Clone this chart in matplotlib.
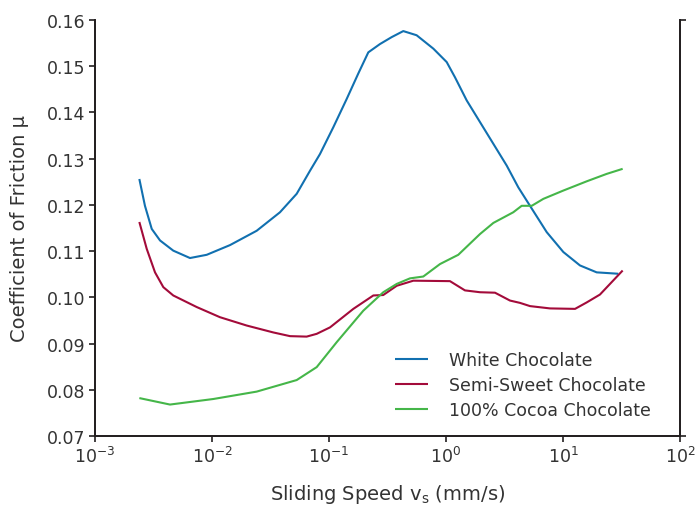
import matplotlib
matplotlib.use("Agg")
import matplotlib.pyplot as plt
import numpy as np

plt.rcParams['font.family'] = ['DejaVu Sans']
plt.rcParams['mathtext.default'] = 'regular'

# log10 of sliding speed (mm/s) and coefficient of friction
white_logx = [-2.621, -2.573, -2.515, -2.444, -2.331, -2.188, -2.045, -1.846, -1.618, -1.419,
              -1.276, -1.162, -1.077, -0.963, -0.849, -0.750, -0.664, -0.564, -0.464, -0.365,
              -0.251, -0.108, 0.006, 0.077, 0.177, 0.291, 0.405, 0.519, 0.618, 0.718,
              0.861, 1.003, 1.145, 1.288, 1.473]
white_mu = [0.1256, 0.1198, 0.1148, 0.1123, 0.1101, 0.1085, 0.1092, 0.1113, 0.1144, 0.1184,
            0.1224, 0.1274, 0.1310, 0.1368, 0.1429, 0.1484, 0.1530, 0.1548, 0.1563, 0.1576,
            0.1567, 0.1538, 0.1509, 0.1476, 0.1426, 0.1379, 0.1332, 0.1285, 0.1238, 0.1198,
            0.1141, 0.1098, 0.1069, 0.1054, 0.1051]

semi_logx = [-2.621, -2.558, -2.487, -2.416, -2.331, -2.131, -1.932, -1.704, -1.476, -1.333,
             -1.191, -1.105, -0.991, -0.792, -0.621, -0.536, -0.421, -0.279, 0.034, 0.162,
             0.291, 0.419, 0.547, 0.632, 0.718, 0.889, 1.103, 1.203, 1.316, 1.510]
semi_mu = [0.1163, 0.1105, 0.1054, 0.1022, 0.1004, 0.0979, 0.0957, 0.0939, 0.0924, 0.0916,
           0.0915, 0.0921, 0.0935, 0.0975, 0.1004, 0.1005, 0.1025, 0.1036, 0.1035, 0.1015,
           0.1011, 0.1010, 0.0993, 0.0988, 0.0981, 0.0976, 0.0975, 0.0989, 0.1006, 0.1058]

cocoa_logx = [-2.621, -2.359, -1.989, -1.618, -1.276, -1.105, -0.934, -0.707, -0.536, -0.421,
              -0.308, -0.194, -0.051, 0.105, 0.291, 0.405, 0.575, 0.647, 0.733, 0.832,
              1.003, 1.203, 1.373, 1.510]
cocoa_mu = [0.0782, 0.0768, 0.0780, 0.0796, 0.0821, 0.0849, 0.0903, 0.0971, 0.1011, 0.1029,
            0.1041, 0.1045, 0.1072, 0.1092, 0.1137, 0.1161, 0.1184, 0.1198, 0.1198, 0.1213,
            0.1231, 0.1251, 0.1267, 0.1278]

series_names = ["White Chocolate", "Semi-Sweet Chocolate", "100% Cocoa Chocolate"]
colors = ["#1170b0", "#a30b3a", "#45b649"]
y_ticks = [0.07, 0.08, 0.09, 0.10, 0.11, 0.12, 0.13, 0.14, 0.15, 0.16]
x_ticks = [1e-3, 1e-2, 1e-1, 1e0, 1e1, 1e2]

text_color = "#333333"
spine_color = "#231f20"

fig = plt.figure(figsize=(6.99, 5.06), dpi=100)
ax = fig.add_axes([0.1359, 0.1364, 0.9728 - 0.1359, 0.9585 - 0.1364])

for lx, mu, name, c in zip([white_logx, semi_logx, cocoa_logx],
                           [white_mu, semi_mu, cocoa_mu], series_names, colors):
    ax.plot(10 ** np.array(lx), mu, color=c, lw=1.5, label=name,
            solid_joinstyle='round', solid_capstyle='butt')

ax.set_xscale('log')
ax.set_xlim(1e-3, 1e2)
ax.set_ylim(0.07, 0.16)
ax.set_xticks(x_ticks)
ax.xaxis.set_minor_locator(matplotlib.ticker.NullLocator())
ax.set_yticks(y_ticks)
ax.set_yticklabels([f"{v:.2f}" for v in y_ticks])

ax.spines['top'].set_visible(False)
for s in ['left', 'right', 'bottom']:
    ax.spines[s].set_color(spine_color)
    ax.spines[s].set_linewidth(1.3)

ax.tick_params(axis='both', which='major', direction='out', length=4, width=1.2,
               color=spine_color, labelsize=12.5, labelcolor=text_color, pad=3)

# right axis with end ticks only
axr = ax.twinx()
axr.set_ylim(0.07, 0.16)
axr.set_yticks([0.07, 0.16])
axr.set_yticklabels([])
axr.tick_params(axis='y', direction='out', length=4, width=1.2, color=spine_color)
axr.spines['top'].set_visible(False)
for s in ['left', 'right', 'bottom']:
    axr.spines[s].set_color(spine_color)
    axr.spines[s].set_linewidth(1.3)

ax.set_xlabel(r"Sliding Speed v$_s$ (mm/s)", fontsize=14, color=text_color, labelpad=12)
ax.set_ylabel("Coefficient of Friction µ", fontsize=14, color=text_color, labelpad=13)

leg = ax.legend(loc='center left', bbox_to_anchor=(0.513, 0.1226), frameon=False,
                fontsize=12.5, handlelength=1.9, handletextpad=1.2, labelspacing=0.38,
                borderpad=0, borderaxespad=0)
for t in leg.get_texts():
    t.set_color(text_color)

fig.savefig("out.png", dpi=100)
